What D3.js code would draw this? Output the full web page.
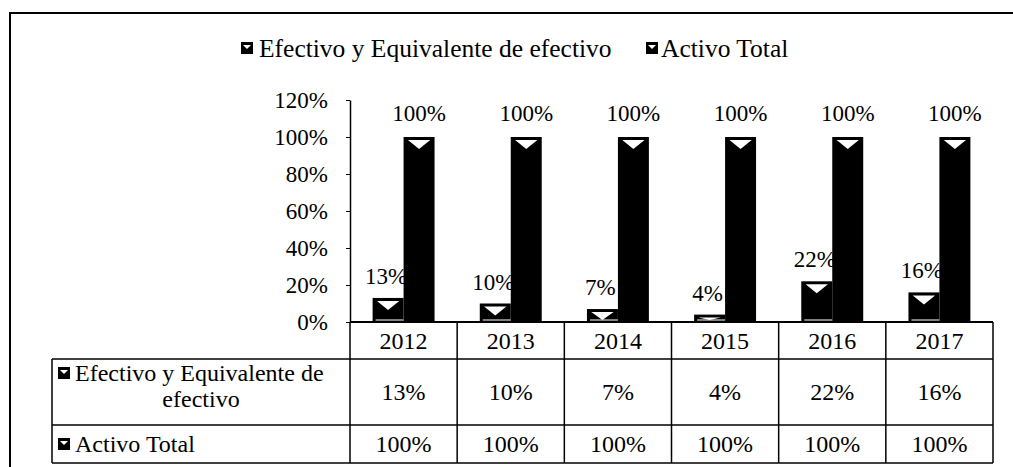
<!DOCTYPE html>
<html>
<head>
<meta charset="utf-8">
<script src="https://cdn.jsdelivr.net/npm/d3@7"></script>
<style>
  body { margin: 0; background: #fff; }
  svg { display: block; }
</style>
</head>
<body>
<div id="chart"></div>
<script>
// values
var years = ["2012", "2013", "2014", "2015", "2016", "2017"];
var efectivo = [0.13, 0.10, 0.07, 0.04, 0.22, 0.16];
var activoTotal = [1, 1, 1, 1, 1, 1];
var seriesNames = ["Efectivo y Equivalente de efectivo", "Activo Total"];
var yTicks = [0, 0.2, 0.4, 0.6, 0.8, 1.0, 1.2];

var width = 1013, height = 467;
var serif = "Liberation Serif, Tinos, Times New Roman, DejaVu Serif, serif";
var pct = d3.format(".0%");

var svg = d3.select("#chart").append("svg")
    .attr("width", width)
    .attr("height", height)
    .attr("font-family", serif);

svg.append("rect").attr("width", width).attr("height", height).attr("fill", "#fff");

// outer frame (only left and top show in the picture)
svg.append("path")
    .attr("d", "M10,467 L10,13 L1013,13")
    .attr("fill", "none")
    .attr("stroke", "#000")
    .attr("stroke-width", 2);

var plotLeft = 350, plotRight = 993, baseY = 322;

var x0 = d3.scaleBand().domain(years).range([plotLeft, plotRight]);
var x1 = d3.scaleBand().domain([0, 1]).range([0, x0.bandwidth()]).paddingOuter(0.73);
var y = d3.scaleLinear().domain([0, 1.2]).range([baseY, 100]);

var addText = function (g, x, y, str, size, anchor) {
  return g.append("text")
      .attr("x", x).attr("y", y)
      .attr("dy", "0.35em")
      .attr("text-anchor", anchor || "start")
      .attr("font-family", serif)
      .attr("font-size", size)
      .attr("fill", "#000")
      .text(str);
}

// legend
var drawKey = function (g, cx, cy) {
  g.append("rect")
      .attr("x", cx - 6).attr("y", cy - 6)
      .attr("width", 12).attr("height", 12)
      .attr("fill", "#000");
  g.append("path")
      .attr("d", "M" + (cx - 4) + "," + (cy - 3) + " L" + (cx + 4) + "," + (cy - 3) + " L" + cx + "," + (cy + 1) + "Z")
      .attr("fill", "#fff");
}

var legend = svg.append("g");
drawKey(legend, 247, 48);
addText(legend, 259, 48, seriesNames[0], 25.5);
drawKey(legend, 652, 48);
addText(legend, 661, 48, seriesNames[1], 25.5);

// y axis
var yAxis = d3.axisLeft(y)
    .tickValues(yTicks)
    .tickFormat(pct)
    .tickSize(4)
    .tickSizeOuter(0)
    .tickPadding(18);

var axisG = svg.append("g")
    .attr("transform", "translate(" + plotLeft + ",0)")
    .call(yAxis)
    .attr("font-family", serif)
    .attr("font-size", 23);
axisG.select(".domain").attr("stroke", "#000").attr("stroke-width", 1.5);
axisG.selectAll(".tick line").attr("stroke", "#000");
axisG.selectAll(".tick text").attr("fill", "#000");

// bars
var seriesValues = [efectivo, activoTotal];

var bars = svg.append("g");
seriesValues.forEach(function (vals, s) {
  years.forEach(function (yr, i) {
    var bx = x0(yr) + x1(s);
    var bw = x1.bandwidth();
    var top = y(vals[i]);
    var h = baseY - top;
    bars.append("rect")
        .attr("x", bx).attr("y", top)
        .attr("width", bw).attr("height", h)
        .attr("fill", "#000");
    // white bevel triangle near the top
    var triH = Math.min(9, h - 5);
    var tw = bw * 0.72;
    if (triH >= 1) {
      bars.append("path")
          .attr("d", "M" + (bx + (bw - tw) / 2) + "," + (top + 3) +
                " L" + (bx + (bw + tw) / 2) + "," + (top + 3) +
                " L" + (bx + bw / 2) + "," + (top + 3 + triH) + "Z")
          .attr("fill", "#fff");
    } else {
      bars.append("line")
          .attr("x1", bx + 4).attr("x2", bx + bw - 4)
          .attr("y1", top + 2.5).attr("y2", top + 2.5)
          .attr("stroke", "#fff").attr("stroke-width", 1);
    }
    // data label
    if (s == 0) {
      // bottom highlight hooking into the next bar
      bars.append("path")
          .attr("d", "M" + (bx + 3) + "," + (baseY - 2) + " L" + (bx + bw + 2) + "," + (baseY - 2) +
                " L" + (bx + bw + 6) + "," + (baseY - 7))
          .attr("fill", "none").attr("stroke", "#fff").attr("stroke-width", 1.2);
      addText(bars, bx + bw / 2 - 2, top - 22, pct(vals[i]), 23, "middle");
      var mx = bx + bw + 1, my = top - 22;
      bars.append("path")
          .attr("d", "M" + mx + "," + (my - 5) + " L" + (mx + 6) + "," + (my - 5) + " L" + (mx + 10) + "," + my +
                " L" + (mx + 6) + "," + (my + 5) + " L" + mx + "," + (my + 5) + "Z")
          .attr("fill", "#fff").attr("stroke", "#000").attr("stroke-width", 1.2);
    } else {
      addText(bars, bx + bw / 2, top - 24, pct(vals[i]), 23, "middle");
    }
  });
});

// baseline
svg.append("line")
    .attr("x1", plotLeft).attr("x2", plotRight)
    .attr("y1", baseY).attr("y2", baseY)
    .attr("stroke", "#000").attr("stroke-width", 2);

// data table
var tableLeft = 52, row1 = 359, row2 = 425, row3 = 463;
var grid = svg.append("g").attr("stroke", "#000").attr("stroke-width", 1.5);
[row1, row2, row3].forEach(function (ry) {
  grid.append("line").attr("x1", tableLeft).attr("x2", plotRight).attr("y1", ry).attr("y2", ry);
});
grid.append("line").attr("x1", tableLeft).attr("x2", tableLeft).attr("y1", row1).attr("y2", row3);
years.concat(["end"]).forEach(function (yr, i) {
  var lx = i < years.length ? x0(yr) : plotRight;
  grid.append("line").attr("x1", lx).attr("x2", lx).attr("y1", baseY).attr("y2", row3);
});

var table = svg.append("g");
years.forEach(function (yr, i) {
  var cx = x0(yr) + x0.bandwidth() / 2;
  addText(table, cx, 341, yr, 24, "middle");
  addText(table, cx, 392, pct(efectivo[i]), 24, "middle");
  addText(table, cx, 444, pct(activoTotal[i]), 24, "middle");
});

drawKey(table, 64, 373);
addText(table, 75, 373, "Efectivo y Equivalente de", 24);
addText(table, (tableLeft + plotLeft) / 2, 399, "efectivo", 24, "middle");
drawKey(table, 64, 444);
addText(table, 75, 444, seriesNames[1], 24);
</script>
</body>
</html>
